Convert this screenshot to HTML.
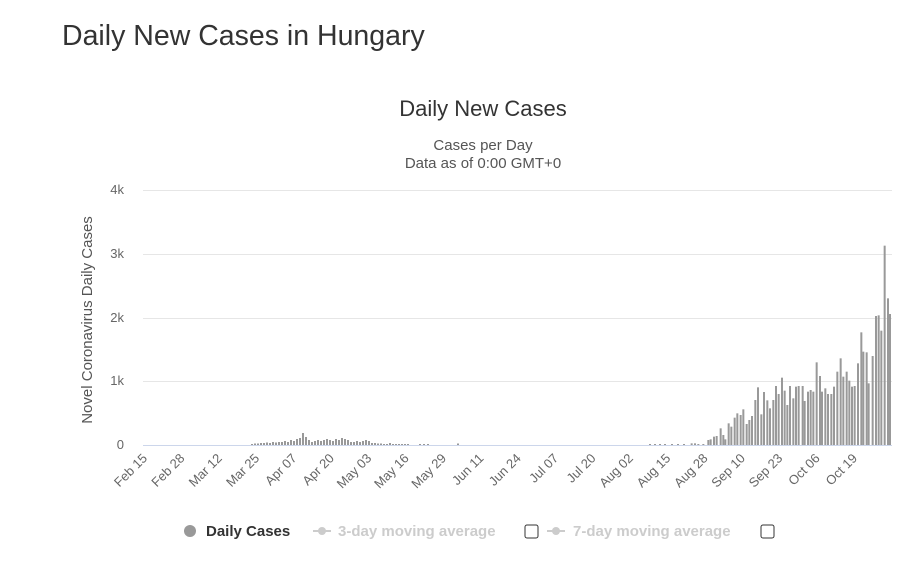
<!DOCTYPE html>
<html><head><style>
body{margin:0;background:#fff;width:899px;height:573px;overflow:hidden;font-family:"Liberation Sans",sans-serif;}
</style></head><body>
<svg width="899" height="573" xmlns="http://www.w3.org/2000/svg" font-family="Liberation Sans, sans-serif">
<text x="62" y="45" font-size="28.5" fill="#333">Daily New Cases in Hungary</text>
<text x="483" y="116" font-size="22" fill="#333" text-anchor="middle">Daily New Cases</text>
<text x="483" y="150" font-size="15" fill="#555" text-anchor="middle">Cases per Day</text>
<text x="483" y="168" font-size="15" fill="#555" text-anchor="middle">Data as of 0:00 GMT+0</text>
<g stroke="#e6e6e6" stroke-width="1">
<line x1="143" x2="892" y1="190.5" y2="190.5"/><line x1="143" x2="892" y1="254.5" y2="254.5"/>
<line x1="143" x2="892" y1="318.5" y2="318.5"/><line x1="143" x2="892" y1="381.5" y2="381.5"/>
</g>
<line x1="143" x2="892" y1="445.5" y2="445.5" stroke="#ccd6eb"/>
<g font-size="13" fill="#666" text-anchor="end">
<text x="124" y="194">4k</text><text x="124" y="258">3k</text><text x="124" y="322">2k</text><text x="124" y="385">1k</text><text x="124" y="449">0</text>
</g>
<text transform="translate(92,320) rotate(-90)" font-size="15" fill="#555" text-anchor="middle">Novel Coronavirus Daily Cases</text>
<g id="bars" fill="#999"></g>
<g font-size="13" fill="#666" text-anchor="end" id="xl"></g>
<g font-size="15">
<circle cx="190" cy="531" r="6" fill="#999"/>
<text x="206" y="536" fill="#333" font-weight="bold">Daily Cases</text>
<line x1="313" x2="331" y1="531" y2="531" stroke="#ccc" stroke-width="2"/><circle cx="322" cy="531" r="4" fill="#ccc"/>
<text x="338" y="536" fill="#ccc" font-weight="bold">3-day moving average</text>
<rect x="525" y="525" width="13" height="13" fill="none" stroke="#333" rx="2"/>
<line x1="547" x2="565" y1="531" y2="531" stroke="#ccc" stroke-width="2"/><circle cx="556" cy="531" r="4" fill="#ccc"/>
<text x="573" y="536" fill="#ccc" font-weight="bold">7-day moving average</text>
<rect x="761" y="525" width="13" height="13" fill="none" stroke="#333" rx="2"/>
</g>
</svg>
<script>
var ns="http://www.w3.org/2000/svg",g=document.getElementById("bars");
function bar(x,y){var r=document.createElementNS(ns,"rect");r.setAttribute("x",x-1);r.setAttribute("y",y);r.setAttribute("width",2);r.setAttribute("height",445-y);g.appendChild(r);}
var late=[[5,640],[15,640],[25,642],[40,642],[55,630],[62,628],[72,620],[80,618],[92,595],[100,615],[106,628],[116,580],[124,590],[134,563],[142,550],[152,555],[160,538],[170,582],[178,570],[186,558],[196,510],[204,472],[214,553],[222,486],[232,511],[240,535],[250,510],[258,468],[266,492],[276,443],[284,482],[292,525],[300,468],[310,505],[318,470],[326,468],[338,468],[344,513],[354,485],[362,480],[370,485],[380,397],[390,438],[396,485],[406,475],[414,492],[424,492],[432,470],[442,425],[452,385],[460,440],[470,425],[478,452],[486,470],[494,468],[504,400],[514,307],[520,365],[530,367],[536,460],[548,378],[558,258],[566,256],[574,302],[584,47],[594,205],[600,252]];
late.forEach(function(b){bar(690+b[0]/3,230+b[1]/3);});
var early={252:1,255:1.5,258:1.5,261:2,264:2,267:2.5,270:2,273:3,276:2.5,279:3,282:3,285:4,288:3,291:5,294:4,297:6,300:7,303:12,306:8,309:5,312:3,315:4,318:5,321:4,324:5,327:6,330:5,333:4,336:6,339:5,342:7,345:6,348:5,351:3,354:3,357:4,360:3,363:4,366:5,369:4,372:2,375:2,378:1.5,381:1.5,384:1,387:1,390:2,393:1,396:1,399:1,402:1,405:1,408:1,420:1,424:1,428:1,458:1.5,650:1,655:1,660:1,665:1,672:1,678:1,684:1};
for(var k in early)bar(+k,445-early[k]);
var labs=["Feb 15","Feb 28","Mar 12","Mar 25","Apr 07","Apr 20","May 03","May 16","May 29","Jun 11","Jun 24","Jul 07","Jul 20","Aug 02","Aug 15","Aug 28","Sep 10","Sep 23","Oct 06","Oct 19"],xl=document.getElementById("xl");
labs.forEach(function(l,i){var x=145+i*37.37;var t=document.createElementNS(ns,"text");t.setAttribute("transform","translate("+(x+3)+",459) rotate(-45)");t.textContent=l;xl.appendChild(t);});
</script>
</body></html>
